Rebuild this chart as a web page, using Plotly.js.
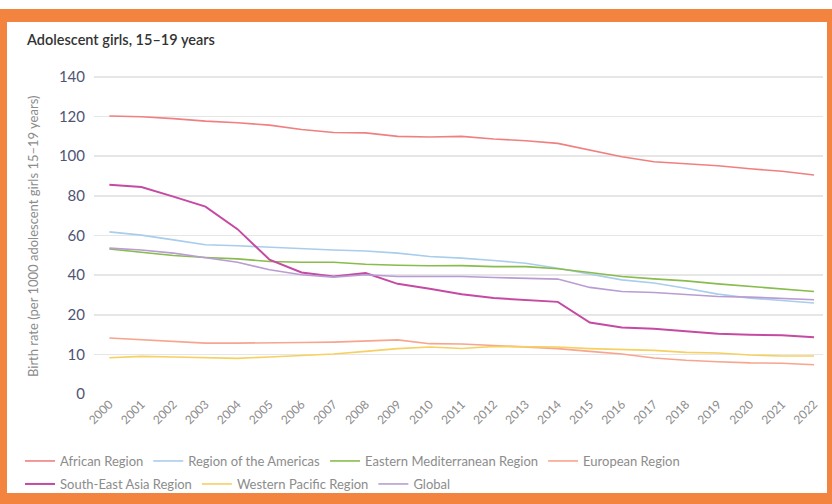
<!DOCTYPE html>
<html>
<head>
<meta charset="utf-8">
<script src="https://cdn.plot.ly/plotly-3.0.1.min.js"></script>
<style>
  html, body { margin: 0; padding: 0; background: #ffffff; width: 832px; height: 504px; overflow: hidden; }
  #orange { position: absolute; left: 0; top: 9px; width: 832px; height: 495px; background: #f2843f; }
  #inner { position: absolute; left: 7px; top: 22px; width: 820px; height: 471px; background: #ffffff; }
  #chart { position: absolute; left: 0; top: 0; width: 832px; height: 504px; }
</style>
</head>
<body>
<div id="orange"></div>
<div id="inner"></div>
<div id="chart"></div>
<script>
// ---- Data (in the chart's plotted axis units) ----
const years = [2000,2001,2002,2003,2004,2005,2006,2007,2008,2009,2010,2011,2012,2013,2014,2015,2016,2017,2018,2019,2020,2021,2022];
const yearLabels = ["2000","2001","2002","2003","2004","2005","2006","2007","2008","2009","2010","2011","2012","2013","2014","2015","2016","2017","2018","2019","2020","2021","2022"];

const african   = [120.3,119.9,119.0,117.7,116.9,115.7,113.5,112.0,111.8,110.0,109.7,110.0,108.7,107.8,106.5,103.1,99.7,97.2,96.2,95.2,93.7,92.4,90.5];
const americas  = [61.8,60.2,57.8,55.3,54.8,54.1,53.1,52.7,52.2,51.1,49.4,48.6,47.4,46.0,43.5,40.7,37.6,36.0,33.4,30.4,28.4,27.2,25.9];
const eastMed   = [53.2,51.4,49.9,48.9,48.2,46.9,46.5,46.5,45.5,45.0,44.7,44.8,44.3,44.3,43.2,41.3,39.3,38.1,37.1,35.6,34.3,33.1,31.7];
const european  = [8.3,7.4,6.5,5.7,5.7,5.7,6.0,6.2,6.9,7.3,5.4,5.2,4.5,3.7,2.9,1.5,0.2,-1.8,-3.0,-3.7,-4.3,-4.5,-5.2];
const seAsia    = [85.6,84.5,79.6,74.6,63.2,47.8,41.3,39.3,41.0,35.6,33.1,30.4,28.4,27.6,26.5,16.1,13.6,12.9,11.8,10.4,9.9,9.6,8.6];
const westPac   = [-1.7,-1.0,-1.3,-1.7,-2.0,-1.3,-0.7,0.2,1.5,2.9,3.7,3.0,4.0,3.7,3.7,2.9,2.4,2.0,1.0,0.7,-0.3,-0.8,-0.8];
const globalRate= [53.6,52.7,51.1,48.9,46.5,42.7,40.2,39.0,40.2,39.3,39.3,39.3,38.8,38.5,38.0,33.8,31.7,31.2,30.1,29.2,28.9,28.1,27.6];

const seriesNames = ["African Region","Region of the Americas","Eastern Mediterranean Region","European Region","South-East Asia Region","Western Pacific Region","Global"];

// Y tick labels as printed on the reference (the original axis labels)
const yTickVals = [-20,0,20,40,60,80,100,120,140];
const yTickText = ["0","10","20","40","60","80","100","120","140"];

// ---- Styles ----
const colors = ["#f08080","#a9cdec","#88bc4c","#f7a58e","#c54aa2","#f7d062","#b99cd4"];
const widths = [1.6,1.6,1.6,1.6,2,1.6,1.6];
const legendOf = ["legend","legend","legend","legend","legend2","legend2","legend2"];
const seriesData = [african, americas, eastMed, european, seAsia, westPac, globalRate];

const traces = seriesData.map((vals, i) => ({
  type: "scatter",
  mode: "lines",
  x: years,
  y: vals,
  name: seriesNames[i],
  legend: legendOf[i],
  line: { color: colors[i], width: widths[i] },
  hoverinfo: "skip"
}));

const fontFam = "Lato, 'Open Sans', sans-serif";
const legendFont = { family: fontFam, size: 13, color: "#8c8c8c" };

const layout = {
  width: 832,
  height: 504,
  paper_bgcolor: "rgba(0,0,0,0)",
  plot_bgcolor: "rgba(0,0,0,0)",
  margin: { l: 94, r: 9, t: 75, b: 110 },
  title: {
    text: "Adolescent girls, 15–19 years",
    x: 27 / 832, xanchor: "left", xref: "container",
    y: 1 - 40 / 504, yanchor: "middle", yref: "container",
    font: { family: fontFam, size: 14.5, color: "#333333", weight: 600 }
  },
  xaxis: {
    range: [1999.52, 2022.28],
    tickmode: "array",
    tickvals: years,
    ticktext: yearLabels,
    tickangle: -45,
    showgrid: false,
    zeroline: false,
    showline: false,
    ticks: "",
    tickfont: { family: fontFam, size: 12, color: "#8c8c8c" }
  },
  yaxis: {
    range: [-20, 141],
    tickmode: "array",
    tickvals: yTickVals,
    ticktext: yTickText,
    showgrid: true,
    gridcolor: "#e6e6e6",
    gridwidth: 1.5,
    zeroline: false,
    showline: false,
    ticks: "",
    ticklabelstandoff: 8,
    tickfont: { family: fontFam, size: 15, color: "#4f5473" }
  },
  annotations: [{
    text: "Birth rate (per 1000 adolescent girls 15–19 years)",
    xref: "paper", yref: "paper",
    x: (33 - 94) / 729, y: (394 - 237) / 319,
    xanchor: "center", yanchor: "middle",
    textangle: -90,
    showarrow: false,
    font: { family: fontFam, size: 13, color: "#8c8c8c" }
  }],
  showlegend: true,
  legend: {
    orientation: "h",
    xref: "container", yref: "container",
    x: 20 / 832, xanchor: "left",
    y: 1 - 461 / 504, yanchor: "middle",
    font: legendFont,
    bgcolor: "rgba(0,0,0,0)",
    traceorder: "normal"
  },
  legend2: {
    orientation: "h",
    xref: "container", yref: "container",
    x: 20 / 832, xanchor: "left",
    y: 1 - 484 / 504, yanchor: "middle",
    font: legendFont,
    bgcolor: "rgba(0,0,0,0)",
    traceorder: "normal"
  }
};

Plotly.newPlot("chart", traces, layout, { displayModeBar: false, staticPlot: true });
</script>
</body>
</html>
